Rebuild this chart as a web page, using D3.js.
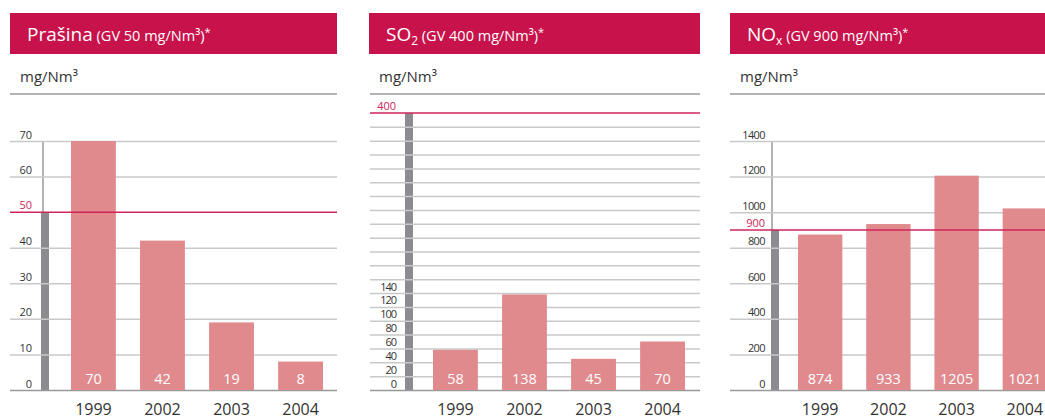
<!DOCTYPE html>
<html>
<head>
<meta charset="utf-8">
<script src="https://cdn.jsdelivr.net/npm/d3@7"></script>
<style>
  body { margin: 0; background: #fff; }
  svg { font-family: "Open Sans", sans-serif; }
</style>
</head>
<body>
<svg width="1045" height="420"></svg>
<script>
// data
var years = ["1999", "2002", "2003", "2004"];
var prasina = [70, 42, 19, 8];
var so2 = [58, 138, 45, 70];
var nox = [874, 933, 1205, 1021];
var limits = [50, 400, 900];
var prasinaTicks = [0, 10, 20, 30, 40, 60, 70];
var so2Ticks = d3.range(0, 400, 20);
var so2Labelled = [0, 20, 40, 60, 80, 100, 120, 140];
var noxTicks = [0, 200, 400, 600, 800, 1000, 1200, 1400];

var panels = [
  {name: "Prašina", sub: null, gv: "(GV 50 mg/Nm³)", values: prasina, limit: limits[0], max: 70,
   ticks: prasinaTicks, labelled: prasinaTicks, x0: 10, x1: 337, gx0: 10, labelX: 32, barX0: 71, barX1: 323,
   gbX: 41, top: 141, axisX: 43, condensed: 0},
  {name: "SO", sub: "2", gv: "(GV 400 mg/Nm³)", values: so2, limit: limits[1], max: 400,
   ticks: so2Ticks, labelled: so2Labelled, x0: 369, x1: 700, gx0: 370, labelX: 396, barX0: 433, barX1: 685,
   gbX: 405, top: 113, axisX: null, condensed: -1},
  {name: "NO", sub: "x", gv: "(GV 900 mg/Nm³)", values: nox, limit: limits[2], max: 1400,
   ticks: noxTicks, labelled: noxTicks, x0: 730, x1: 1045, gx0: 730, labelX: 765, barX0: 798, barX1: 1047,
   gbX: 771, top: 141, axisX: 772, condensed: -0.6}
];

var crimson = "#c8124b";
var limitColor = "#d0245a";
var barColor = "#e08a8d";
var greyBar = "#8b8b90";
var gridColor = "#c9c9c9";
var bottomY = 390;

var svg = d3.select("svg");

panels.forEach(function(p) {
  var g = svg.append("g");

  // header
  g.append("rect")
    .attr("x", p.x0).attr("y", 13)
    .attr("width", p.x1 - p.x0).attr("height", 41)
    .attr("fill", crimson);
  var t = g.append("text")
    .attr("x", p.x0 + 17).attr("y", 41)
    .attr("fill", "#fff")
    .style("font-size", "19px");
  t.append("tspan").text(p.name);
  if (p.sub) {
    t.append("tspan").attr("dy", 4).style("font-size", "12px").text(p.sub);
    t.append("tspan").attr("dy", -4).style("font-size", "14.5px").text(" " + p.gv);
  } else {
    t.append("tspan").style("font-size", "14.5px").text(" " + p.gv);
  }
  t.append("tspan").attr("dy", -5).style("font-size", "11px").text("*");

  // unit label + rule
  g.append("text")
    .attr("x", p.x0 + 10).attr("y", 82)
    .attr("fill", "#333")
    .style("font-size", "15px")
    .text("mg/Nm³");
  g.append("line")
    .attr("x1", p.gx0).attr("x2", p.x1)
    .attr("y1", 94).attr("y2", 94)
    .attr("stroke", "#9a9a9a").attr("stroke-width", 1.5);

  var y = d3.scaleLinear().domain([0, p.max]).range([bottomY, p.top]);
  var x = d3.scaleBand().domain(years).range([p.barX0, p.barX1]).paddingInner(0.35).paddingOuter(0);

  // grey limit bar and thin axis line
  g.append("rect")
    .attr("x", p.gbX).attr("width", 8)
    .attr("y", y(p.limit)).attr("height", bottomY - y(p.limit))
    .attr("fill", greyBar);
  if (p.axisX !== null) {
    g.append("line")
      .attr("x1", p.axisX).attr("x2", p.axisX)
      .attr("y1", y(p.max)).attr("y2", y(p.limit))
      .attr("stroke", "#9a9a9a").attr("stroke-width", 1.5);
  }

  // gridlines + labels
  var axis = d3.axisLeft(y)
    .tickValues(p.ticks)
    .tickSize(-(p.x1 - p.gx0))
    .tickFormat(function(d) { return p.labelled.indexOf(d) >= 0 ? d : ""; });
  var ax = g.append("g")
    .attr("transform", "translate(" + p.gx0 + ",0)")
    .call(axis);
  ax.select(".domain").remove();
  ax.selectAll(".tick line")
    .attr("stroke", function(d) { return d === 0 ? "#999" : gridColor; })
    .attr("stroke-width", 1.5);
  ax.selectAll(".tick text")
    .attr("x", p.labelX - p.gx0)
    .attr("dy", null)
    .attr("y", -3)
    .attr("fill", "#333")
    .style("font-family", "\"Open Sans\", sans-serif")
    .style("font-size", "11px")
    .style("letter-spacing", p.condensed + "px")
    .attr("text-anchor", "end");

  // bars
  g.selectAll("rect.bar")
    .data(p.values)
    .enter().append("rect")
    .attr("class", "bar")
    .attr("x", function(d, i) { return x(years[i]); })
    .attr("width", x.bandwidth())
    .attr("y", function(d) { return y(d); })
    .attr("height", function(d) { return bottomY - y(d); })
    .attr("fill", barColor);

  g.selectAll("text.val")
    .data(p.values)
    .enter().append("text")
    .attr("class", "val")
    .attr("x", function(d, i) { return x(years[i]) + x.bandwidth() / 2; })
    .attr("y", 384)
    .attr("text-anchor", "middle")
    .attr("fill", "#fff")
    .style("font-size", "14.5px")
    .text(function(d) { return d; });

  g.selectAll("text.year")
    .data(years)
    .enter().append("text")
    .attr("class", "year")
    .attr("x", function(d) { return x(d) + x.bandwidth() / 2; })
    .attr("y", 415)
    .attr("text-anchor", "middle")
    .attr("fill", "#333")
    .style("font-size", "16px")
    .text(function(d) { return d; });

  // limit line + label
  g.append("line")
    .attr("x1", p.gx0).attr("x2", p.x1)
    .attr("y1", y(p.limit)).attr("y2", y(p.limit))
    .attr("stroke", limitColor).attr("stroke-width", 1.5);
  g.append("text")
    .attr("x", p.labelX).attr("y", y(p.limit) - 3)
    .attr("text-anchor", "end")
    .attr("fill", limitColor)
    .style("font-size", "11px")
    .text(p.limit);
});
</script>
</body>
</html>
